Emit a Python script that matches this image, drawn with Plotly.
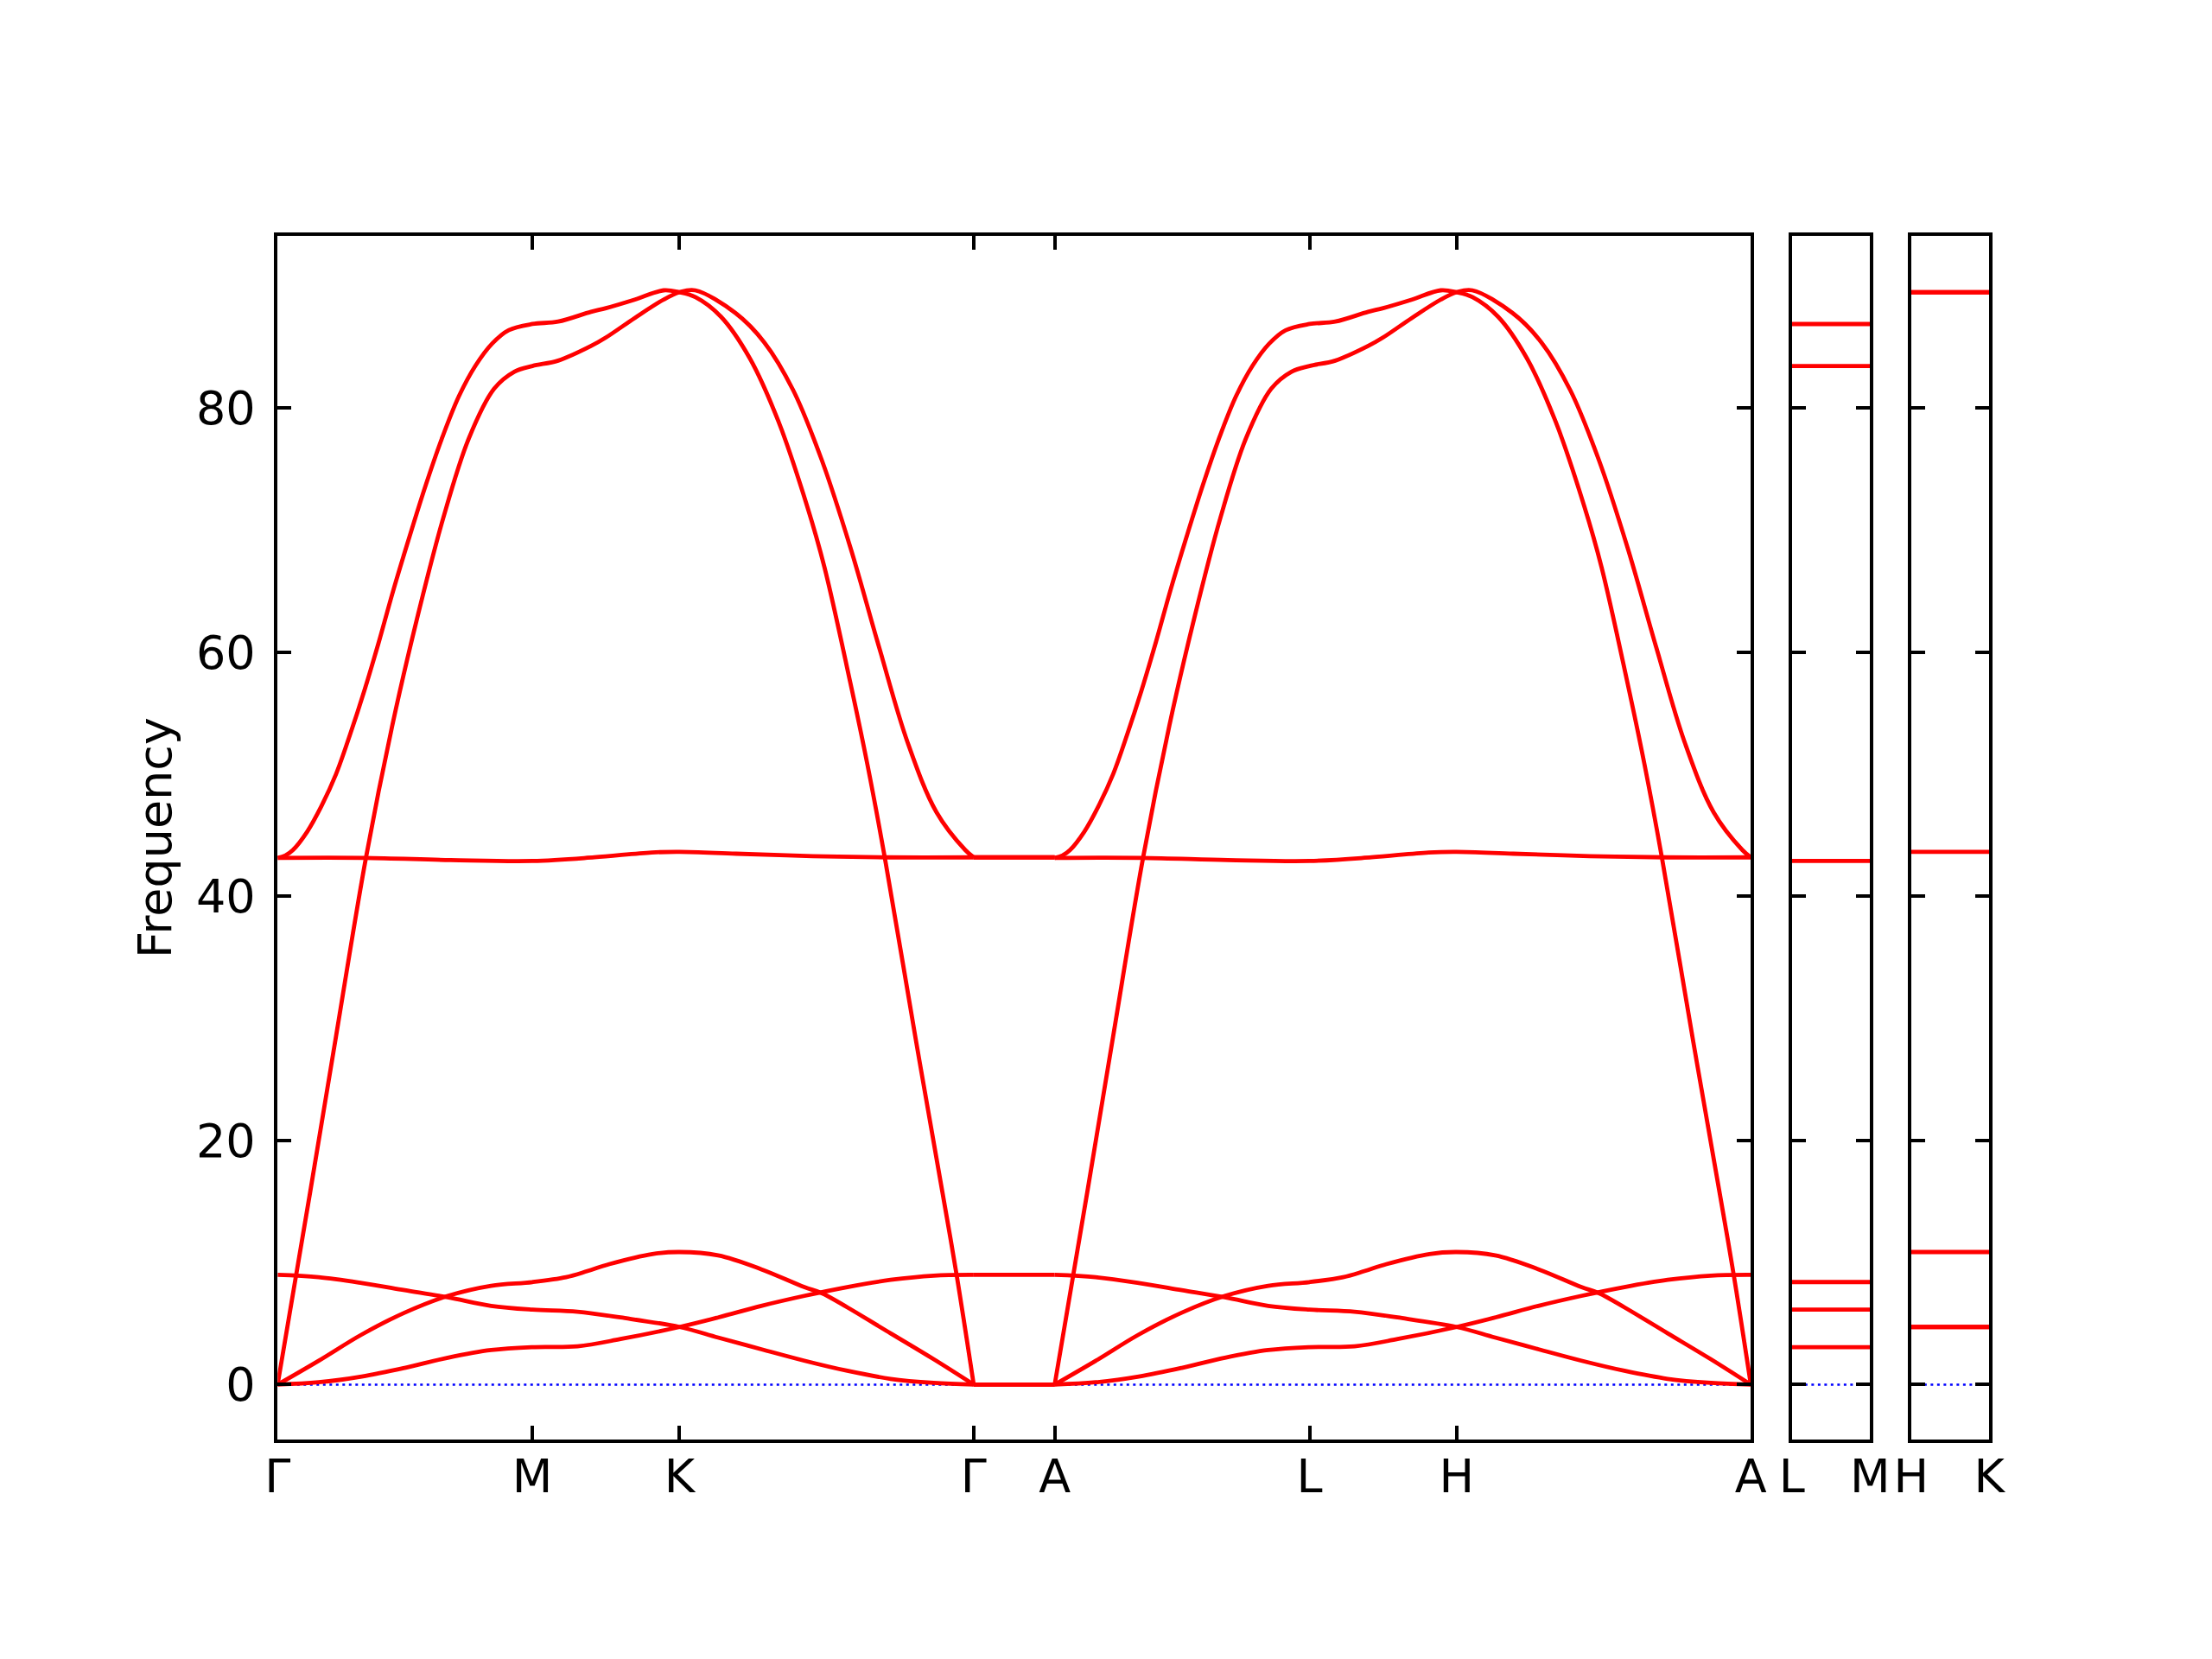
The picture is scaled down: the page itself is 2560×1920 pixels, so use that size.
import plotly.graph_objects as go

# ---------------- data ----------------
# path distances of high-symmetry points (Γ-M-K-Γ-A-L-H-A), first half Γ..Γ
D_M = 1.0
D_K = 1.5774
D_G = 2.7321
GA_LEN = 0.318          # Γ–A length (also L–M and H–K panel width)
D_A = D_G + GA_LEN      # start of the second half (A-L-H-A repeats Γ-M-K-Γ)
path_labels = ["Γ", "M", "K", "Γ", "A", "L", "H", "A"]

# band 1: LA from Γ -> lower high branch at M -> K -> upper branch to Γ
hi1_d = [0, 0.128, 0.229, 0.347, 0.45, 0.55, 0.65, 0.75, 0.85, 0.93, 1.0,
         1.101, 1.23, 1.289, 1.402, 1.515, 1.5774, 1.639, 1.797, 1.910, 2.023,
         2.135, 2.248, 2.361, 2.473, 2.586, 2.699, 2.7321]
hi1_f = [0, 15.8, 28.5, 43.2, 54.0, 63.0, 71.0, 77.5, 81.6, 83.0, 83.46,
         83.9, 85.1, 85.8, 87.4, 88.9, 89.5, 89.66, 87.8, 85.4, 81.5,
         75.8, 68.6, 60.4, 52.6, 46.9, 43.8, 43.2]

# band 2: upper optical from 43 at Γ -> upper at M -> K -> steep down to 0 at Γ
hi2_d = [0, 0.03, 0.06, 0.116, 0.172, 0.229, 0.285, 0.341, 0.398, 0.453, 0.518,
         0.583, 0.648, 0.712, 0.777, 0.842, 0.907, 1.0, 1.101, 1.23, 1.289,
         1.402, 1.515, 1.5774, 1.64, 1.740, 1.853, 1.966, 2.078, 2.146, 2.248,
         2.315, 2.383, 2.507, 2.609, 2.665, 2.7321]
hi2_f = [43.16, 43.35, 43.8, 45.3, 47.4, 50.0, 53.3, 56.9, 60.9, 65.0, 69.5,
         73.8, 77.7, 81.0, 83.5, 85.3, 86.4, 86.9, 87.1, 87.9, 88.2,
         88.9, 89.66, 89.5, 89.1, 87.5, 84.1, 78.9, 72.0, 67.0, 57.5,
         50.8, 43.2, 28.0, 15.8, 9.0, 0]

# band 3: nearly flat optical branch around 43
flat_d = [0, 0.34, 0.679, 1.0, 1.243, 1.468, 1.5774, 1.8, 2.1, 2.4, 2.7321]
flat_f = [43.16, 43.16, 42.98, 42.9, 43.2, 43.6, 43.65, 43.5, 43.3, 43.2, 43.2]

# band 4: 9 at Γ -> 6.14 at M -> 4.72 at K -> 0 at Γ
lo1_d = [0, 0.161, 0.33, 0.499, 0.668, 0.838, 1.0, 1.177, 1.346, 1.5774,
         1.729, 1.898, 2.067, 2.236, 2.406, 2.575, 2.7321]
lo1_f = [8.99, 8.8, 8.33, 7.74, 7.15, 6.45, 6.14, 5.97, 5.50, 4.72,
         3.85, 2.9, 1.96, 1.13, 0.47, 0.14, 0]

# band 5: 0 at Γ -> 8.4 at M -> 10.86 at K -> 0 at Γ
lo2_d = [0, 0.161, 0.33, 0.499, 0.668, 0.838, 1.0, 1.132, 1.216, 1.302, 1.471,
         1.5774, 1.729, 1.898, 2.067, 2.135, 2.236, 2.406, 2.575, 2.7321]
lo2_f = [0, 1.95, 4.1, 5.9, 7.27, 8.1, 8.4, 8.8, 9.3, 9.87, 10.7,
         10.86, 10.58, 9.45, 7.99, 7.5, 6.33, 4.2, 2.08, 0]

# band 6: 0 at Γ -> 3.07 at M -> 4.72 at K -> 9 at Γ
lo3_d = [0, 0.161, 0.33, 0.499, 0.668, 0.838, 1.0, 1.177, 1.346, 1.5774,
         1.729, 1.898, 2.067, 2.236, 2.406, 2.575, 2.7321]
lo3_f = [0, 0.19, 0.66, 1.37, 2.2, 2.83, 3.07, 3.14, 3.73, 4.72,
         5.5, 6.45, 7.27, 7.99, 8.58, 8.93, 8.99]

# dispersionless segments
ga_freqs = [0, 0, 0, 8.99, 43.2, 43.2]            # Γ–A
lm_freqs = [3.07, 6.14, 8.4, 42.9, 83.46, 86.9]    # L–M panel
hk_freqs = [4.72, 4.72, 10.86, 43.65, 89.5, 89.5]  # H–K panel

Y_RANGE = [-4.48, 94.1]
Y_TICKS = [0, 20, 40, 60, 80]

# ---------------- figure ----------------
RED = "#ff0000"
LW = 4.8
FONT = dict(family="DejaVu Sans", size=54, color="black")

fig = go.Figure()

D_END = D_A + D_G

# zero reference lines (blue dotted)
for xa, ya, xr in [("x", "y", [0, D_END]), ("x2", "y2", [0, GA_LEN]), ("x3", "y3", [0, GA_LEN])]:
    fig.add_trace(go.Scatter(x=xr, y=[0, 0], mode="lines", xaxis=xa, yaxis=ya,
                             line=dict(color="blue", width=2.5, dash="3px,4.5px"),
                             hoverinfo="skip", showlegend=False))

bands = [(hi1_d, hi1_f), (hi2_d, hi2_f), (flat_d, flat_f),
         (lo1_d, lo1_f), (lo2_d, lo2_f), (lo3_d, lo3_f)]
for off in (0.0, D_A):
    for d, f in bands:
        fig.add_trace(go.Scatter(x=[v + off for v in d], y=f, mode="lines",
                                 xaxis="x", yaxis="y",
                                 line=dict(color=RED, width=LW, shape="spline", smoothing=1.0),
                                 showlegend=False))

for fv in ga_freqs:
    fig.add_trace(go.Scatter(x=[D_G, D_A], y=[fv, fv], mode="lines", xaxis="x", yaxis="y",
                             line=dict(color=RED, width=LW), showlegend=False))
for fv in lm_freqs:
    fig.add_trace(go.Scatter(x=[0, GA_LEN], y=[fv, fv], mode="lines", xaxis="x2", yaxis="y2",
                             line=dict(color=RED, width=LW), showlegend=False))
for fv in hk_freqs:
    fig.add_trace(go.Scatter(x=[0, GA_LEN], y=[fv, fv], mode="lines", xaxis="x3", yaxis="y3",
                             line=dict(color=RED, width=LW), showlegend=False))

main_ticks = [0, D_M, D_K, D_G, D_A, D_A + D_M, D_A + D_K, D_END]

common_x = dict(showgrid=False, zeroline=False, showline=True, linecolor="black",
                linewidth=3.6, mirror="ticks", ticks="inside", ticklen=16, tickwidth=3.6,
                tickcolor="black", tickfont=FONT, automargin=False, ticklabelstandoff=-7)
Y_DOMAIN = [0.13662, 0.86183]
common_y = dict(showgrid=False, zeroline=False, showline=True, linecolor="black",
                linewidth=3.6, mirror="ticks", ticks="inside", ticklen=16, tickwidth=3.6,
                tickcolor="black", tickfont=FONT, automargin=False, range=Y_RANGE,
                tickvals=Y_TICKS, domain=Y_DOMAIN)

fig.update_layout(
    width=2560, height=1920,
    paper_bgcolor="white", plot_bgcolor="white",
    margin=dict(l=0, r=0, t=0, b=0),
    showlegend=False,
    font=FONT,
    xaxis=dict(domain=[0.12238, 0.78838], range=[0, D_END], tickvals=main_ticks,
               ticktext=path_labels, anchor="y", **common_x),
    xaxis2=dict(domain=[0.80698, 0.84228], range=[0, GA_LEN], tickvals=[0, GA_LEN],
                ticktext=["L", "M"], anchor="y2", **common_x),
    xaxis3=dict(domain=[0.86088, 0.89618], range=[0, GA_LEN], tickvals=[0, GA_LEN],
                ticktext=["H", "K"], anchor="y3", **common_x),
    yaxis=dict(anchor="x", title=dict(text="Frequency", font=FONT, standoff=12),
               ticklabelstandoff=11, **common_y),
    yaxis2=dict(anchor="x2", showticklabels=False, **common_y),
    yaxis3=dict(anchor="x3", showticklabels=False, **common_y),
)

fig.write_html("out.html")
